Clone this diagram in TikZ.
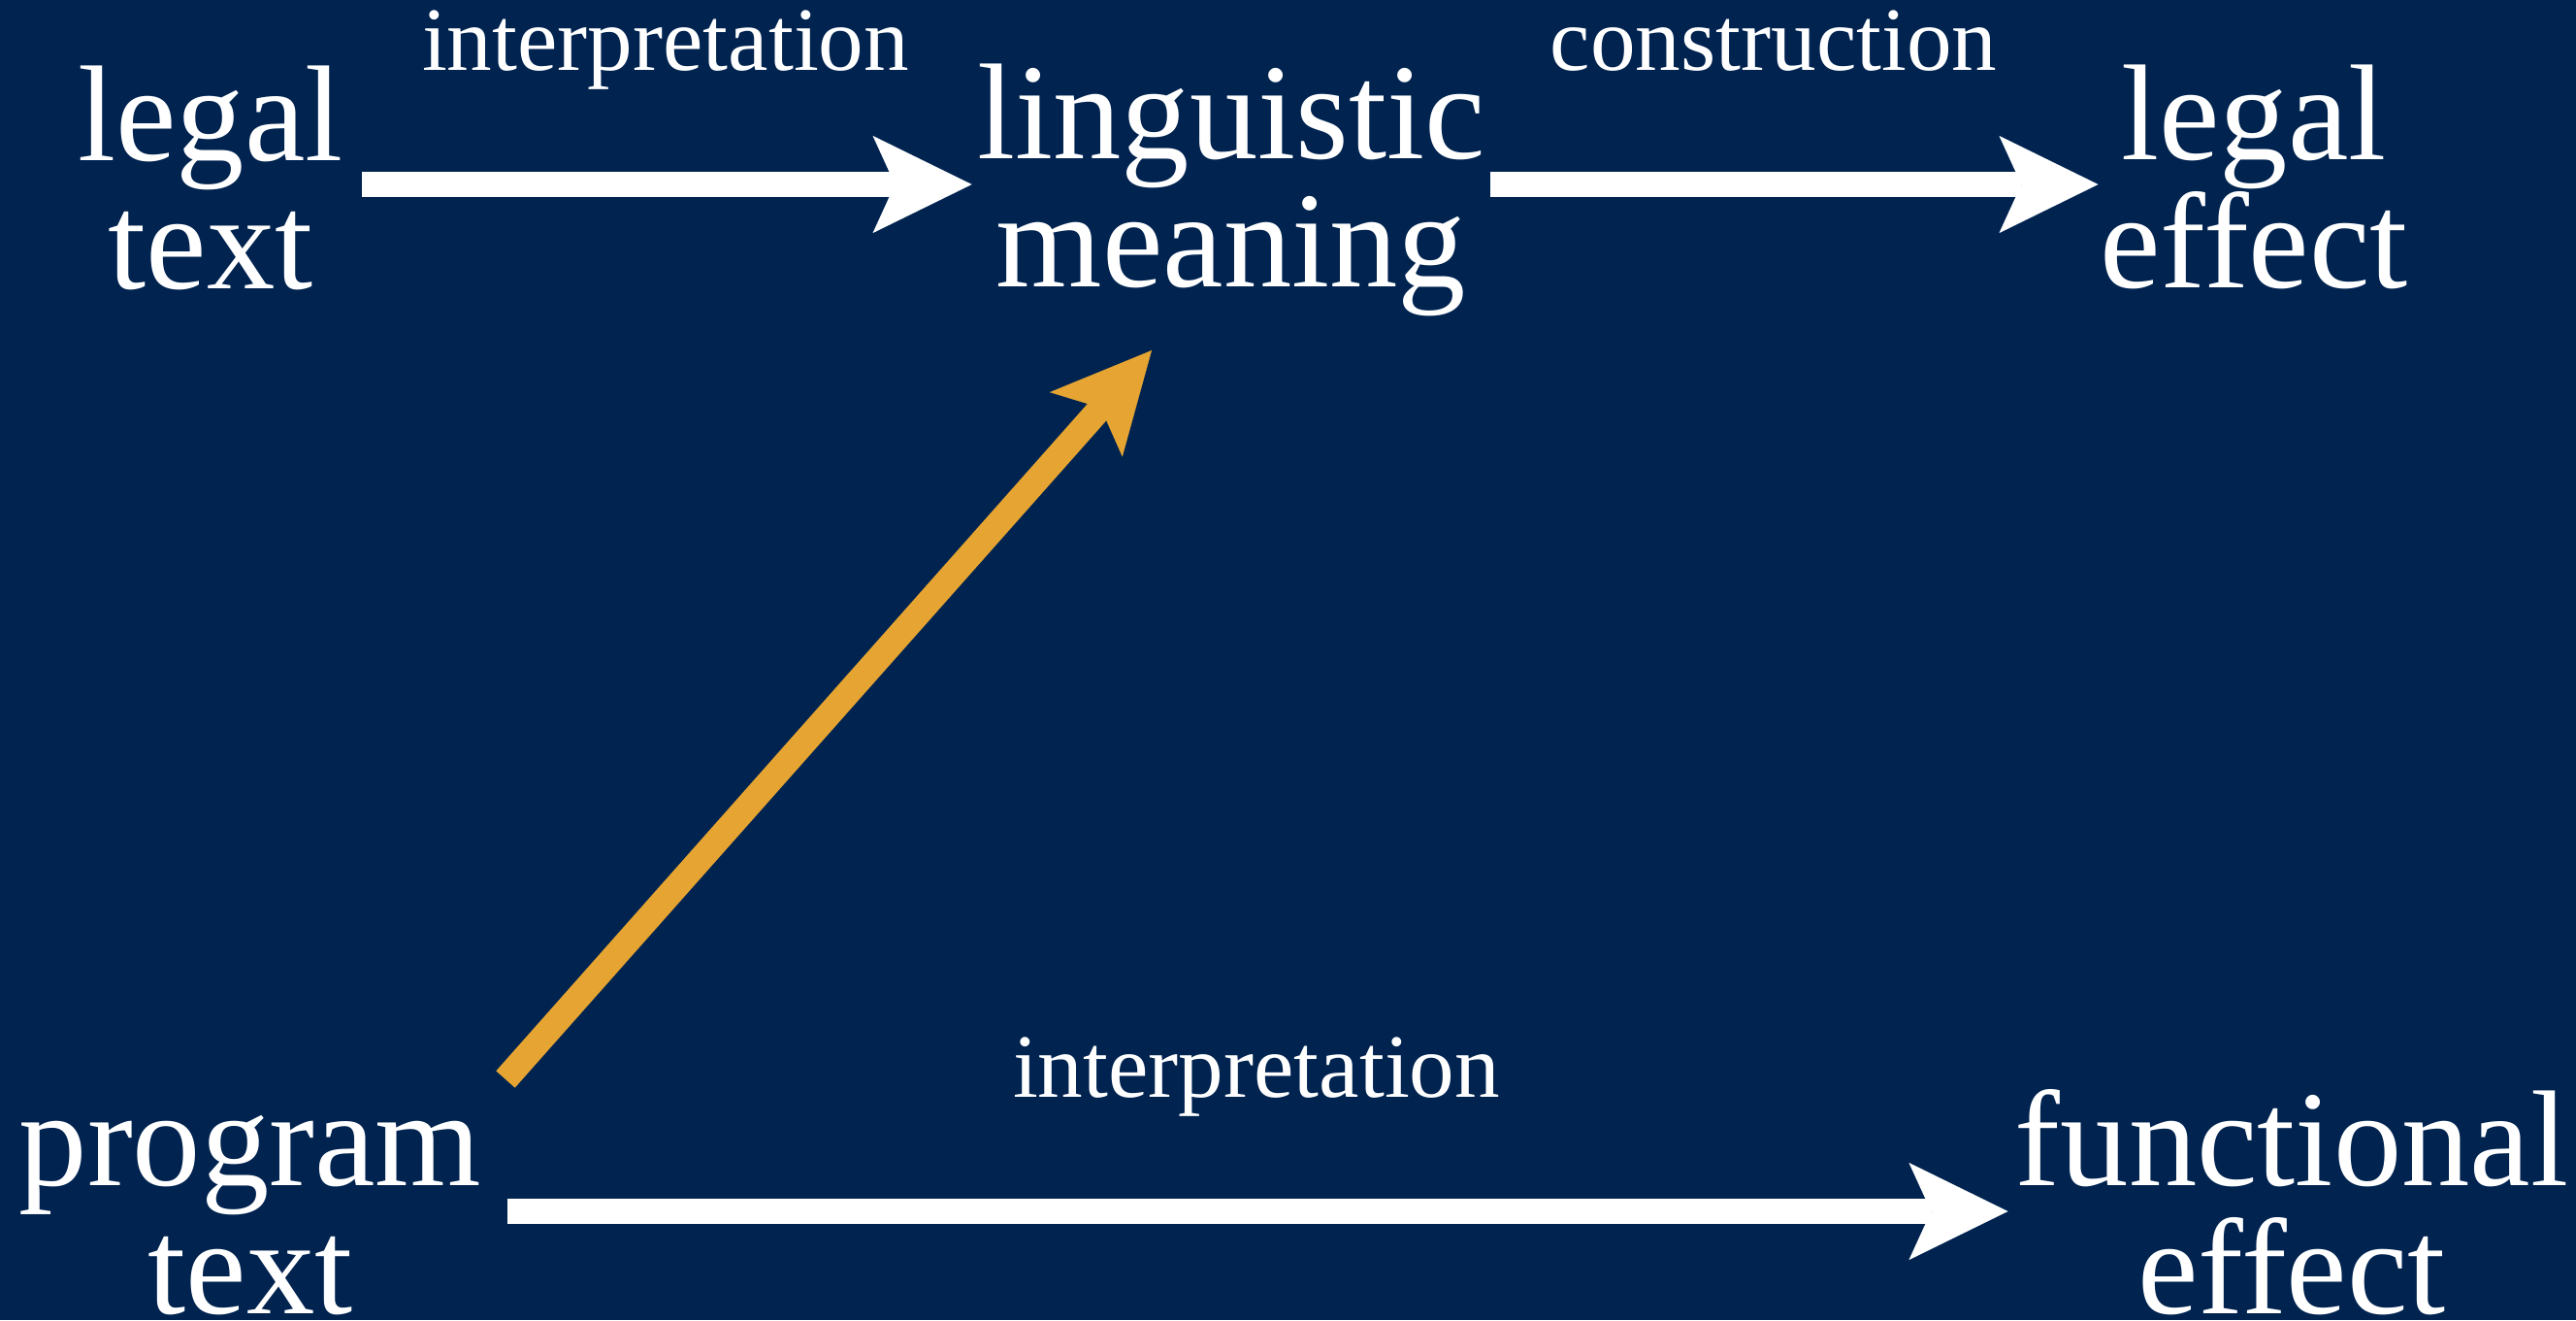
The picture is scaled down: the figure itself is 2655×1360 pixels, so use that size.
\documentclass[tikz,border=0pt]{standalone}
\usepackage{fontspec}
\setmainfont{Liberation Serif}
\usetikzlibrary{arrows.meta}
\definecolor{navybg}{RGB}{0,35,80}
\definecolor{goldarrow}{RGB}{230,165,50}
\begin{document}
\begin{tikzpicture}[x=0.01cm,y=-0.01cm,
  concept/.style={text=white, font=\fontsize{40}{37.3}\selectfont, align=center, inner sep=0pt, anchor=base},
  lab/.style={text=white, font=\fontsize{26.5}{30}\selectfont, inner sep=0pt, anchor=base},
  headtip/.style={-{Stealth[length=29pt, width=28.45pt, inset=6.5pt, line width=0.1pt]}},
  wa/.style={draw=white, line width=7.4pt, headtip},
  oa/.style={draw=goldarrow, line width=7.4pt, headtip}]
\fill[navybg] (0,0) rectangle (2655,1360);
\useasboundingbox (0,0) rectangle (2655,1360);
\node[concept] (lt) at (217,297) {legal\\text};
\node[concept] (lm) at (1269,295) {linguistic\\meaning};
\node[concept] (le) at (2323,296) {legal\\effect};
\node[concept] (pt) at (258,1353) {program\\text};
\node[concept] (fe) at (2362,1353) {functional\\effect};
\node[lab] (l1) at (686,72) {interpretation};
\node[lab] (l2) at (1828,72) {construction};
\node[lab] (l3) at (1295,1130) {interpretation};
\coordinate (ty) at (0,190);
\coordinate (by) at (0,1248);
\coordinate (os) at (521,1112);
\coordinate (ot) at (1187,361);
\draw[wa, shorten <=5.3pt, shorten >=1.4pt] (lt.east |- ty) -- (lm.west |- ty);
\draw[wa, shorten <=1.2pt, shorten >=0.3pt] (lm.east |- ty) -- (le.west |- ty);
\draw[wa, shorten <=7.3pt, shorten >=1.9pt] (pt.east |- by) -- (fe.west |- by);
\draw[oa] (os) -- (ot);
\end{tikzpicture}
\end{document}
